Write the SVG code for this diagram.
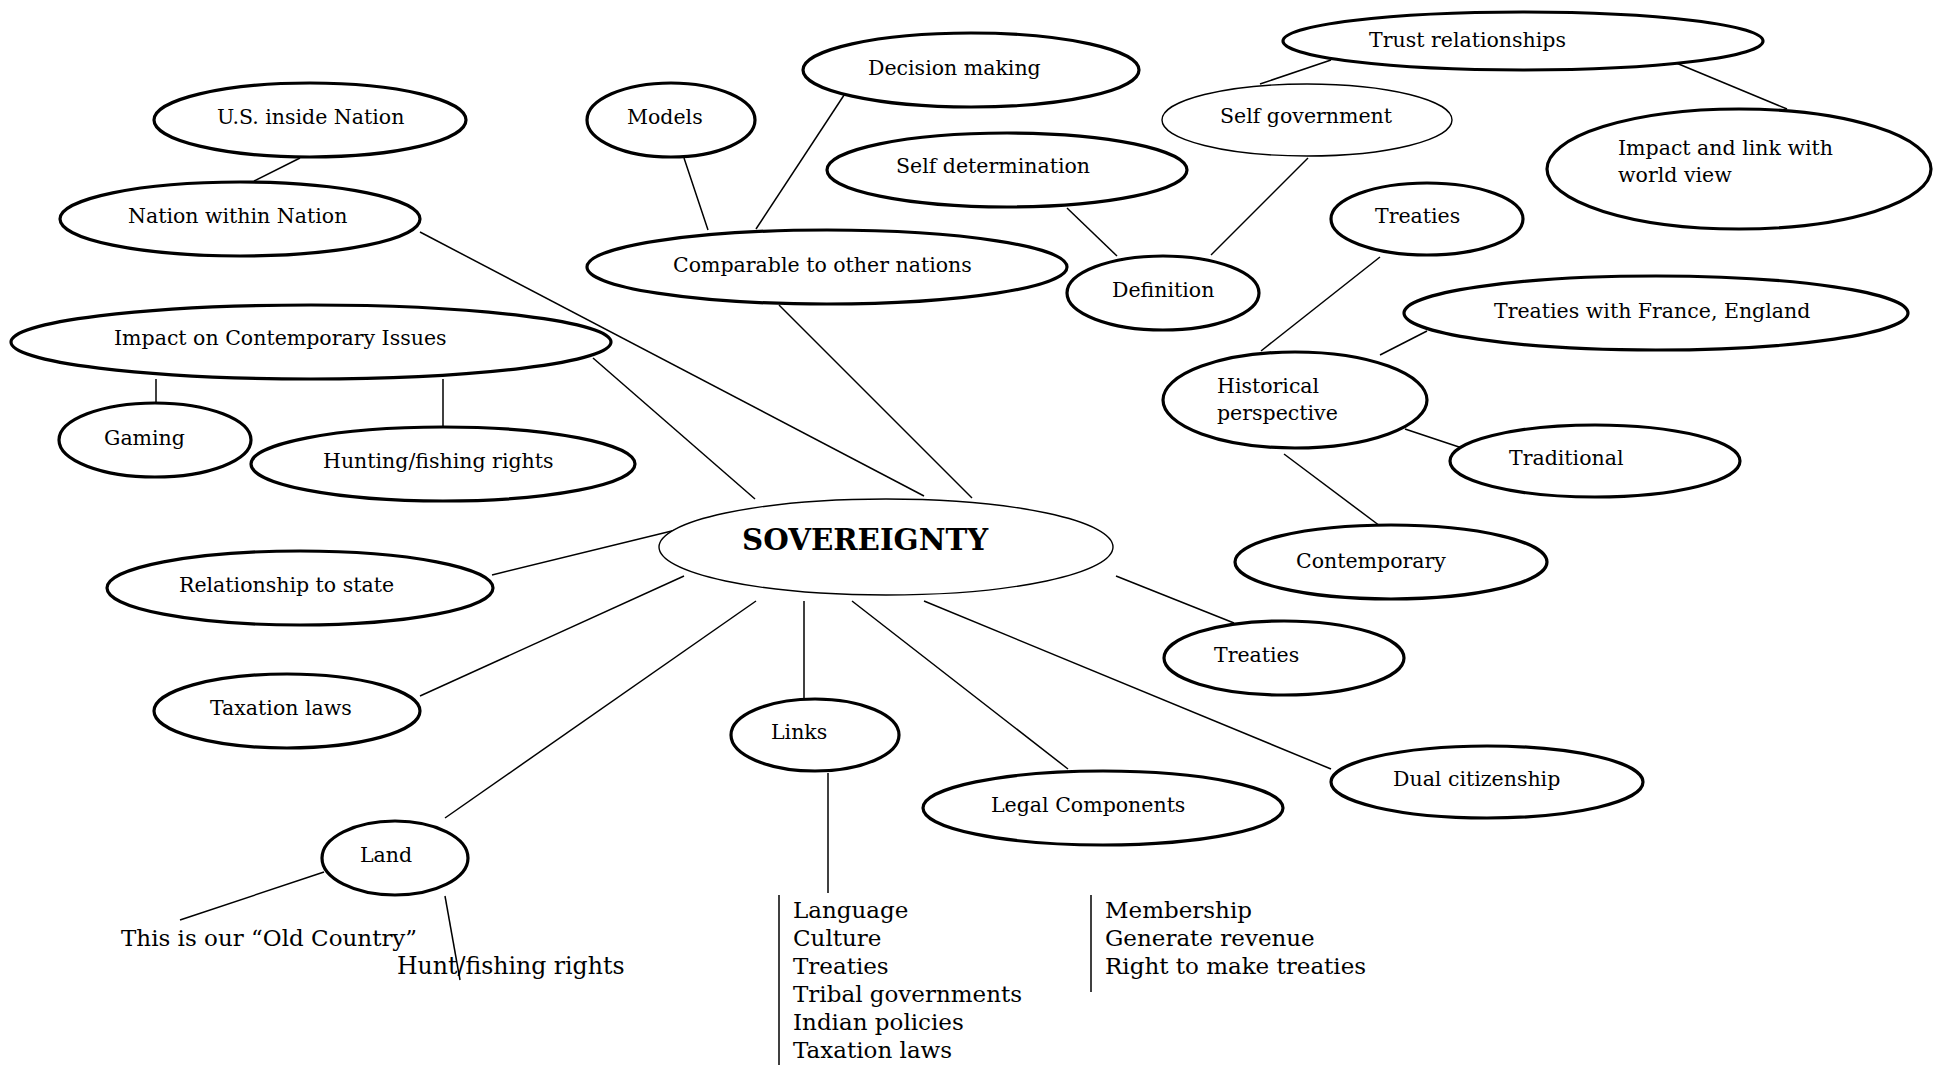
<svg xmlns="http://www.w3.org/2000/svg" width="1944" height="1065" viewBox="0 0 1944 1065">
<style>
.n{fill:#fff;stroke:#000;stroke-width:3.2}
.t{fill:#fff;stroke:#000;stroke-width:1.4}
.c line{stroke:#000;stroke-width:1.5}
text{font-family:"DejaVu Serif","Liberation Serif",serif;font-size:20.5px;fill:#000}
.l{font-size:23px}
.h{font-size:23.6px}
.b{font-size:29.3px;font-weight:bold}
</style>
<rect width="1944" height="1065" fill="#fff"/>
<g id="connectors" class="c">
<line x1="300" y1="158" x2="254" y2="181"/>
<line x1="684" y1="158" x2="708" y2="230"/>
<line x1="852" y1="83" x2="756" y2="229"/>
<line x1="156" y1="379" x2="156" y2="403"/>
<line x1="443" y1="379" x2="443" y2="427"/>
<line x1="593" y1="358" x2="755" y2="499"/>
<line x1="420" y1="232" x2="924" y2="496"/>
<line x1="779" y1="305" x2="972" y2="498"/>
<line x1="1331" y1="60" x2="1260" y2="84"/>
<line x1="1669" y1="60" x2="1787" y2="109"/>
<line x1="1067" y1="208" x2="1117" y2="256"/>
<line x1="1308" y1="158" x2="1211" y2="255"/>
<line x1="1380" y1="257" x2="1261" y2="351"/>
<line x1="1427" y1="331" x2="1380" y2="355"/>
<line x1="1405" y1="429" x2="1477" y2="453"/>
<line x1="1284" y1="454" x2="1380" y2="526"/>
<line x1="684" y1="528" x2="492" y2="575"/>
<line x1="684" y1="576" x2="420" y2="696"/>
<line x1="756" y1="601" x2="445" y2="818"/>
<line x1="804" y1="601" x2="804" y2="698"/>
<line x1="828" y1="773" x2="828" y2="893"/>
<line x1="779" y1="895" x2="779" y2="1065"/>
<line x1="1091" y1="895" x2="1091" y2="992"/>
<line x1="324" y1="872" x2="180" y2="920"/>
<line x1="445" y1="896" x2="460" y2="980"/>
<line x1="1116" y1="576" x2="1234" y2="623"/>
<line x1="852" y1="601" x2="1068" y2="769"/>
<line x1="924" y1="601" x2="1331" y2="769"/>
</g>
<g id="us-inside"><ellipse class="n" cx="310" cy="120" rx="156" ry="37"/><text x="217" y="124">U.S. inside Nation</text></g>
<g id="models"><ellipse class="n" cx="671" cy="120" rx="84" ry="37"/><text x="627" y="124">Models</text></g>
<g id="decision"><ellipse class="n" cx="971" cy="70" rx="168" ry="37"/><text x="868" y="75">Decision making</text></g>
<g id="trust"><ellipse class="n" cx="1523" cy="41" rx="240" ry="29"/><text x="1369" y="47">Trust relationships</text></g>
<g id="self-gov"><ellipse class="t" cx="1307" cy="120" rx="145" ry="36"/><text x="1220" y="123">Self government</text></g>
<g id="impact-world"><ellipse class="n" cx="1739" cy="169" rx="192" ry="60"/><text x="1618" y="155">Impact and link with</text><text x="1618" y="182">world view</text></g>
<g id="self-det"><ellipse class="n" cx="1007" cy="170" rx="180" ry="37"/><text x="896" y="173">Self determination</text></g>
<g id="nation-within"><ellipse class="n" cx="240" cy="219" rx="180" ry="37"/><text x="128" y="223">Nation within Nation</text></g>
<g id="comparable"><ellipse class="n" cx="827" cy="267" rx="240" ry="37"/><text x="673" y="272">Comparable to other nations</text></g>
<g id="definition"><ellipse class="n" cx="1163" cy="293" rx="96" ry="37"/><text x="1112" y="297">Definition</text></g>
<g id="treaties-top"><ellipse class="n" cx="1427" cy="219" rx="96" ry="36"/><text x="1375" y="223">Treaties</text></g>
<g id="treaties-fe"><ellipse class="n" cx="1656" cy="313" rx="252" ry="37"/><text x="1494" y="318">Treaties with France, England</text></g>
<g id="impact-issues"><ellipse class="n" cx="311" cy="342" rx="300" ry="37"/><text x="114" y="345">Impact on Contemporary Issues</text></g>
<g id="gaming"><ellipse class="n" cx="155" cy="440" rx="96" ry="37"/><text x="104" y="445">Gaming</text></g>
<g id="hunting"><ellipse class="n" cx="443" cy="464" rx="192" ry="37"/><text x="323" y="468">Hunting/fishing rights</text></g>
<g id="historical"><ellipse class="n" cx="1295" cy="400" rx="132" ry="48"/><text x="1217" y="393">Historical</text><text x="1217" y="420">perspective</text></g>
<g id="traditional"><ellipse class="n" cx="1595" cy="461" rx="145" ry="36"/><text x="1509" y="465">Traditional</text></g>
<g id="contemporary"><ellipse class="n" cx="1391" cy="562" rx="156" ry="37"/><text x="1296" y="568">Contemporary</text></g>
<g id="sovereignty"><ellipse class="t" cx="886" cy="547" rx="227" ry="48"/><text class="b" x="742" y="550">SOVEREIGNTY</text></g>
<g id="relationship"><ellipse class="n" cx="300" cy="588" rx="193" ry="37"/><text x="179" y="592">Relationship to state</text></g>
<g id="treaties-right"><ellipse class="n" cx="1284" cy="658" rx="120" ry="37"/><text x="1214" y="662">Treaties</text></g>
<g id="taxation"><ellipse class="n" cx="287" cy="711" rx="133" ry="37"/><text x="210" y="715">Taxation laws</text></g>
<g id="links"><ellipse class="n" cx="815" cy="735" rx="84" ry="36"/><text x="771" y="739">Links</text></g>
<g id="dual"><ellipse class="n" cx="1487" cy="782" rx="156" ry="36"/><text x="1393" y="786">Dual citizenship</text></g>
<g id="legal"><ellipse class="n" cx="1103" cy="808" rx="180" ry="37"/><text x="991" y="812">Legal Components</text></g>
<g id="land"><ellipse class="n" cx="395" cy="858" rx="73" ry="37"/><text x="360" y="862">Land</text></g>
<g id="land-notes"><text class="l" x="121" y="946">This is our “Old Country”</text><text class="h" x="397" y="974">Hunt/fishing rights</text></g>
<g id="links-list"><text class="l" x="793" y="918">Language</text><text class="l" x="793" y="946">Culture</text><text class="l" x="793" y="974">Treaties</text><text class="l" x="793" y="1002">Tribal governments</text><text class="l" x="793" y="1030">Indian policies</text><text class="l" x="793" y="1058">Taxation laws</text></g>
<g id="legal-list"><text class="l" x="1105" y="918">Membership</text><text class="l" x="1105" y="946">Generate revenue</text><text class="l" x="1105" y="974">Right to make treaties</text></g>
</svg>
